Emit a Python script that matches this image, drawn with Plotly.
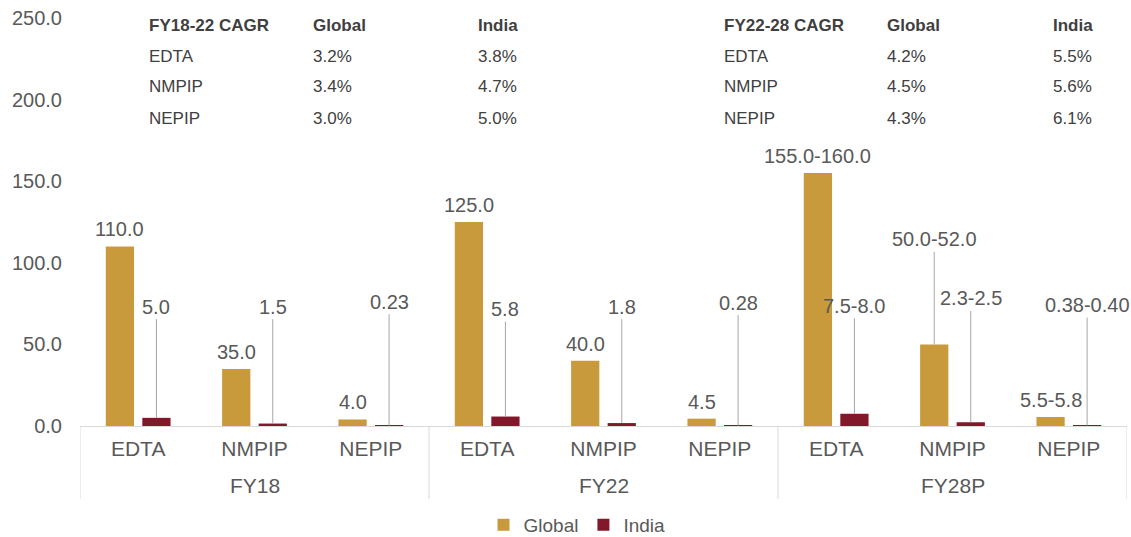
import plotly.graph_objects as go

# Market size by period and product (Global vs India)
periods = ["FY18", "FY22", "FY28P"]
products = ["EDTA", "NMPIP", "NEPIP"]
global_vals = [110.0, 35.0, 4.0, 125.0, 40.0, 4.5, 155.0, 50.0, 5.5]
india_vals = [5.0, 1.5, 0.23, 5.8, 1.8, 0.28, 7.5, 2.3, 0.38]
global_text = ["110.0", "35.0", "4.0", "125.0", "40.0", "4.5", "155.0-160.0", "50.0-52.0", "5.5-5.8"]
india_text = ["5.0", "1.5", "0.23", "5.8", "1.8", "0.28", "7.5-8.0", "2.3-2.5", "0.38-0.40"]
y_ticks = [0, 50, 100, 150, 200, 250]

# CAGR tables
cagr_rows = ["EDTA", "NMPIP", "NEPIP"]
cagr_18_22_global = ["3.2%", "3.4%", "3.0%"]
cagr_18_22_india = ["3.8%", "4.7%", "5.0%"]
cagr_22_28_global = ["4.2%", "4.5%", "4.3%"]
cagr_22_28_india = ["5.5%", "5.6%", "6.1%"]

GOLD = "#C89A3C"
MAROON = "#82192B"
TXT = "#595959"
LINE = "#D9D9D9"
FONT = "Liberation Sans, Arial, sans-serif"

W, H = 1131, 537
L, R, T, B = 80, 4, 18, 111
PW, PH = W - L - R, H - T - B

n_prod = len(products)
xpos = list(range(len(periods) * n_prod))
xlabels = products * len(periods)

fig = go.Figure()
fig.add_trace(go.Bar(name="Global", x=xpos, y=global_vals,
                     marker=dict(color=GOLD, line=dict(width=0))))
fig.add_trace(go.Bar(name="India", x=xpos, y=india_vals,
                     marker=dict(color=MAROON, line=dict(width=0))))

BARGAP, GROUPGAP = 0.372, 0.227
slot = (1 - BARGAP) / 2
off_g, off_i = -slot / 2, slot / 2

# Heights (axis units) of labels that hang on a leader line
india_label_at = [73.1, 73.1, 76.2, 71.5, 73.1, 75.6, 73.7, 78.2, 74.1]
global_leader_at = {7: 114.4}

annotations = []
shapes = []
lab_font = dict(family=FONT, size=20, color=TXT)
leader = dict(showarrow=True, arrowhead=0, arrowwidth=1, arrowcolor="#A6A6A6",
              ax=0, axref="pixel", ayref="y", standoff=0)
for i, (v, t) in enumerate(zip(global_vals, global_text)):
    if i in global_leader_at:
        annotations.append(dict(x=xpos[i] + off_g, y=v, xref="x", yref="y", text=t,
                                ay=global_leader_at[i], font=lab_font, **leader))
    else:
        annotations.append(dict(x=xpos[i] + off_g, y=v, xref="x", yref="y", text=t,
                                showarrow=False, yanchor="bottom", yshift=4,
                                font=lab_font))
for i, (v, t) in enumerate(zip(india_vals, india_text)):
    annotations.append(dict(x=xpos[i] + off_i, y=v, xref="x", yref="y", text=t,
                            ay=india_label_at[i], font=lab_font, **leader))


def py2paper(py):
    return (H - B - py) / PH


def px2paper(px):
    return (px - L) / PW


# Period labels under the product labels, with dividers between periods
for g, name in enumerate(periods):
    annotations.append(dict(x=g * n_prod + (n_prod - 1) / 2, y=py2paper(485),
                            xref="x", yref="paper", text=name, showarrow=False,
                            yanchor="middle", font=dict(family=FONT, size=21, color=TXT)))
for g in range(len(periods) + 1):
    xd = g * n_prod - 0.5
    shapes.append(dict(type="line", xref="x", yref="paper", x0=xd, x1=xd,
                       y0=0, y1=py2paper(499), line=dict(color=LINE, width=1)))


def table(x_cols, header, g_vals, i_vals):
    row_y = [25, 56, 87, 118]
    cells = [[header, "Global", "India"]] + [[r, g, iv] for r, g, iv in zip(cagr_rows, g_vals, i_vals)]
    for r, row in enumerate(cells):
        for c, txt in enumerate(row):
            annotations.append(dict(
                x=px2paper(x_cols[c]), y=py2paper(row_y[r]), xref="paper", yref="paper",
                xanchor="left", yanchor="middle",
                text=f"<b>{txt}</b>" if r == 0 else txt, showarrow=False,
                font=dict(family=FONT, size=17, color="#404040")))


table([147, 311, 476], "FY18-22 CAGR", cagr_18_22_global, cagr_18_22_india)
table([722, 885, 1051], "FY22-28 CAGR", cagr_22_28_global, cagr_22_28_india)

fig.update_layout(
    width=W, height=H,
    margin=dict(l=L, r=R, t=T, b=B, pad=0, autoexpand=False),
    paper_bgcolor="white", plot_bgcolor="white",
    barmode="group", bargap=BARGAP, bargroupgap=GROUPGAP,
    font=dict(family=FONT, color=TXT),
    showlegend=True,
    legend=dict(orientation="h", xref="container", yref="container",
                x=577 / W, y=(H - 525) / H, xanchor="center", yanchor="middle",
                font=dict(family=FONT, size=19, color=TXT), traceorder="normal",
                itemwidth=30),
    annotations=annotations,
    shapes=shapes,
    yaxis=dict(range=[0, 250], tickvals=y_ticks, tickformat=".1f", automargin=False,
               showgrid=False, zeroline=False, showline=False, ticks="",
               tickfont=dict(family=FONT, size=20, color=TXT), ticklabelstandoff=17),
    xaxis=dict(range=[-0.5, len(xpos) - 0.5], tickvals=xpos, ticktext=xlabels,
               automargin=False, showline=True, linecolor=LINE, linewidth=1,
               showgrid=False, zeroline=False, ticks="",
               tickfont=dict(family=FONT, size=21, color=TXT), ticklabelstandoff=4),
)

fig.write_html("out.html")
